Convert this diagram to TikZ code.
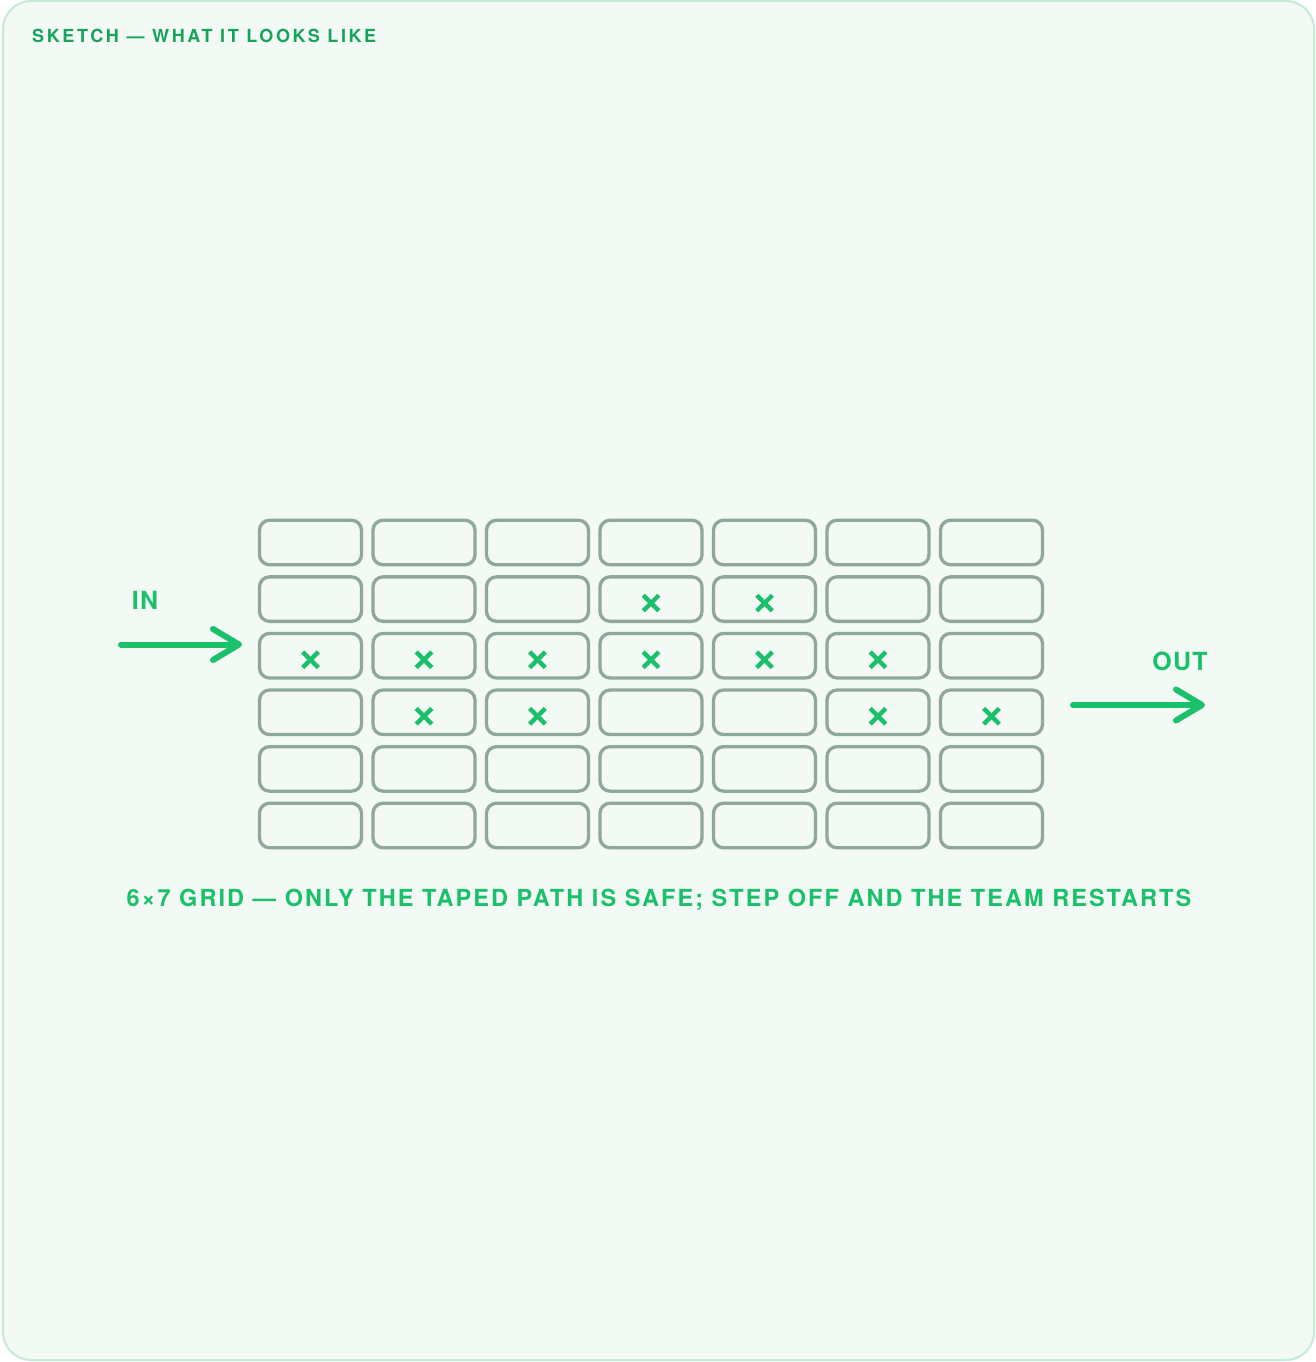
\documentclass[tikz,border=0pt]{standalone}
\usepackage{fontspec}
\setmainfont{TeX Gyre Heros}
\newfontfamily\trackA[LetterSpace=14.5]{TeX Gyre Heros}
\newfontfamily\trackB[LetterSpace=8.8]{TeX Gyre Heros}
\newfontfamily\trackC[LetterSpace=5]{TeX Gyre Heros}
\usetikzlibrary{arrows.meta}
\definecolor{bgc}{HTML}{F3F9F5}
\definecolor{borderc}{HTML}{C4EBD3}
\definecolor{cellc}{HTML}{8FA89A}
\definecolor{titlec}{HTML}{17A35C}
\definecolor{greenc}{HTML}{1BC06A}
\begin{document}
\begin{tikzpicture}[x=1pt,y=-1pt,
  cell/.style={draw=cellc, line width=3.3pt, rounded corners=10pt, minimum width=102pt, minimum height=44.5pt, inner sep=0pt},
  xm/.style={draw=greenc, line width=4.4pt},
  arr/.style={draw=greenc, line width=6pt, line cap=round, -{Straight Barb[length=26pt,width=31pt,round]}},
  lab/.style={text=greenc, font=\trackC\bfseries\fontsize{25}{28}\selectfont, inner sep=0pt},
  captxt/.style={text=greenc, font=\trackB\bfseries\fontsize{23.5}{26}\selectfont, inner sep=0pt},
  ttl/.style={text=titlec, font=\trackA\bfseries\fontsize{18}{20}\selectfont, inner sep=0pt, anchor=base west}]
\useasboundingbox (0,0) rectangle (1316,1362);
\draw[draw=borderc, fill=bgc, line width=2pt, rounded corners=28pt] (3,1) rectangle (1314,1360);
\node[ttl] (title) at (32,43) {SKETCH — WHAT IT LOOKS LIKE};
\foreach \r in {0,...,5}{
  \foreach \c in {0,...,6}{
    \node[cell] (c\r\c) at ({310.5+113.5*\c},{542.5+56.6*\r}) {};
  }
}
\foreach \cc in {13,14,20,21,22,23,24,25,31,32,35,36}{
  \draw[xm] ([shift={(-7.8pt,-11.8pt)}]c\cc.center) -- ([shift={(7.8pt,3.8pt)}]c\cc.center);
  \draw[xm] ([shift={(-7.8pt,3.8pt)}]c\cc.center) -- ([shift={(7.8pt,-11.8pt)}]c\cc.center);
}
\node[lab] (inL) at (145,600) {IN};
\node[lab] (outL) at (1180,661) {OUT};
\coordinate (inS) at (121,644.5);
\coordinate (inE) at (242,644.5);
\coordinate (outS) at (1073,705);
\coordinate (outE) at (1205,705);
\draw[arr] (inS) -- (inE);
\draw[arr] (outS) -- (outE);
\node[captxt] (caption) at (659,900) {6×7 GRID — ONLY THE TAPED PATH IS SAFE; STEP OFF AND THE TEAM RESTARTS};
\end{tikzpicture}
\end{document}
